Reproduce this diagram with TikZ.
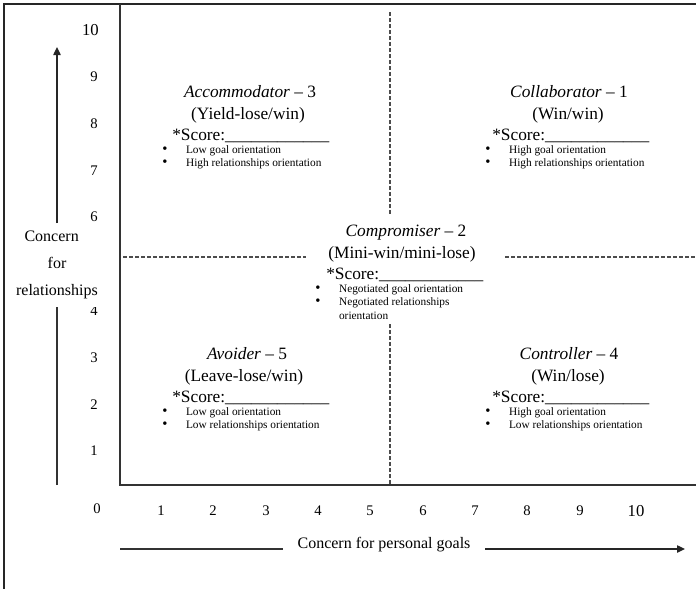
\documentclass[tikz,border=0pt]{standalone}
\usepackage{fontspec}
\setmainfont{Liberation Serif}
\usetikzlibrary{positioning}
\usetikzlibrary{arrows.meta}

\newcommand{\pointlist}[1]{\begin{tabular}[t]{@{}l@{\hspace{14pt}}l@{}}#1\end{tabular}}
\newcommand{\dotmark}{{\fontsize{11}{10}\selectfont\textbullet}}
\newcommand{\scoreblank}{*Score:\_\_\_\_\_\_\_\_\_\_\_\_}

\tikzset{
  frameline/.style={line width=1.3pt, draw=black!85},
  gridline/.style={line width=1pt, draw=black!80},
  splitline/.style={line width=0.8pt, draw=black!70, dash pattern=on 2.8pt off 1.7pt},
  axisarrow/.style={line width=1pt, draw=black!85, -{Triangle[length=6pt,width=5.5pt]}},
  ticklabel/.style={font=\fontsize{11}{13}\selectfont, inner sep=0pt},
  tenlabel/.style={font=\fontsize{12.5}{15}\selectfont, inner sep=0pt},
  roletitle/.style={anchor=base, font=\fontsize{13}{15.6}\selectfont, inner sep=0pt},
  scoretext/.style={anchor=base west, font=\fontsize{13}{15.6}\selectfont, inner sep=0pt},
  traits/.style={anchor=base west, font=\fontsize{8.5}{10.2}\selectfont, inner sep=0pt},
  axislabel/.style={fill=white, font=\fontsize{12}{20}\selectfont},
}

\begin{document}
\begin{tikzpicture}[x=0.75pt, y=-0.75pt]
    \useasboundingbox (0,0) rectangle (696,589);

    % frame and quadrant lines
    \draw[frameline] (696,4) -- (4,4) -- (4,589);
    \draw[gridline] (120,4) -- (120,485) -- (696,485);
    \draw[splitline] (390,12) -- (390,214);
    \draw[splitline] (390,324) -- (390,485);
    \draw[splitline] (123,257) -- (306,257);
    \draw[splitline] (505,257) -- (696,257);

    % y scale
    \node[tenlabel, anchor=east] (y10) at (99,30) {10};
    \node[ticklabel, anchor=east] (y9) at (98,77) {9};
    \node[ticklabel, anchor=east] (y8) at (98,124) {8};
    \node[ticklabel, anchor=east] (y7) at (98,171) {7};
    \node[ticklabel, anchor=east] (y6) at (98,217) {6};
    \node[ticklabel, anchor=east] (y5) at (98,264) {5};
    \node[ticklabel, anchor=east] (y4) at (98,311) {4};
    \node[ticklabel, anchor=east] (y3) at (98,358) {3};
    \node[ticklabel, anchor=east] (y2) at (98,405) {2};
    \node[ticklabel, anchor=east] (y1) at (98,451) {1};
    \node[ticklabel] (y0) at (97,509) {0};

    % x scale
    \node[ticklabel] (x1) at (161,511) {1};
    \node[ticklabel] (x2) at (213,511) {2};
    \node[ticklabel] (x3) at (266,511) {3};
    \node[ticklabel] (x4) at (318,511) {4};
    \node[ticklabel] (x5) at (370,511) {5};
    \node[ticklabel] (x6) at (423,511) {6};
    \node[ticklabel] (x7) at (475,511) {7};
    \node[ticklabel] (x8) at (527,511) {8};
    \node[ticklabel] (x9) at (580,511) {9};
    \node[tenlabel] (x10) at (636,511) {10};

    % axis titles with arrows
    \node[axislabel, align=center, inner xsep=0pt, inner ysep=6pt] (ylab) at (57,265)
        {Concern\hspace*{8pt}\\for\hspace*{22pt}\\relationships};
    \coordinate (ybot) at (57,485);
    \coordinate (ytip) at (57,47);
    \draw[gridline] (ybot) -- (ylab.south);
    \draw[axisarrow] (ylab.north) -- (ytip);

    \node[axislabel, anchor=base, inner xsep=11pt] (xlab) at (384,548) {Concern for personal goals};
    \coordinate (xbeg) at (120,549);
    \coordinate (xtip) at (685,549);
    \draw[gridline] (xbeg) -- (xbeg -| xlab.west);
    \draw[axisarrow] (xbeg -| xlab.east) -- (xtip);

    % Accommodator
    \node[roletitle] (accT) at (250,97) {\textit{Accommodator} -- 3};
    \node[roletitle] (accS) at (248,119) {(Yield-lose/win)};
    \node[scoretext] (accScore) at (172,140) {\scoreblank};
    \node[traits] (accPts) at (162,153) {\pointlist{\dotmark & Low goal orientation\\
        \dotmark & High relationships orientation}};

    % Collaborator
    \node[roletitle] (colT) at (569,97) {\textit{Collaborator} -- 1};
    \node[roletitle] (colS) at (568,119) {(Win/win)};
    \node[scoretext] (colScore) at (492,140) {\scoreblank};
    \node[traits] (colPts) at (485,153) {\pointlist{\dotmark & High goal orientation\\
        \dotmark & High relationships orientation}};

    % Compromiser
    \node[roletitle] (comT) at (406,236) {\textit{Compromiser} -- 2};
    \node[roletitle] (comS) at (402,258) {(Mini-win/mini-lose)};
    \node[scoretext] (comScore) at (326,279) {\scoreblank};
    \node[traits] (comPts) at (315,292) {\pointlist{\dotmark & Negotiated goal orientation\\
        \dotmark & Negotiated relationships\\ & orientation}};

    % Avoider
    \node[roletitle] (avoT) at (247,359) {\textit{Avoider} -- 5};
    \node[roletitle] (avoS) at (244,381) {(Leave-lose/win)};
    \node[scoretext] (avoScore) at (172,402) {\scoreblank};
    \node[traits] (avoPts) at (162,415) {\pointlist{\dotmark & Low goal orientation\\
        \dotmark & Low relationships orientation}};

    % Controller
    \node[roletitle] (conT) at (569,359) {\textit{Controller} -- 4};
    \node[roletitle] (conS) at (568,381) {(Win/lose)};
    \node[scoretext] (conScore) at (492,402) {\scoreblank};
    \node[traits] (conPts) at (485,415) {\pointlist{\dotmark & High goal orientation\\
        \dotmark & Low relationships orientation}};
\end{tikzpicture}
\end{document}
